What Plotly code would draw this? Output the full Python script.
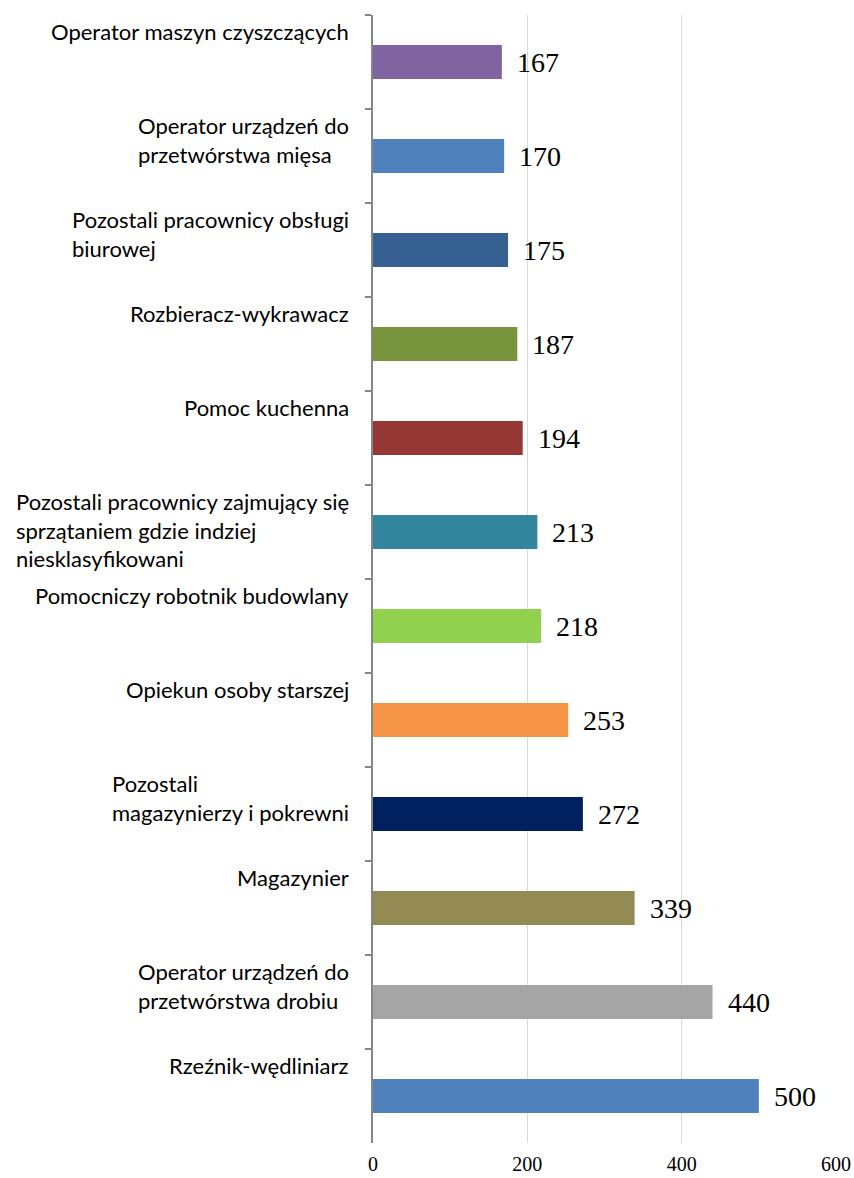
import plotly.graph_objects as go

categories = [
    "Operator maszyn czyszczących",
    "Operator urządzeń do<br>przetwórstwa mięsa",
    "Pozostali pracownicy obsługi<br>biurowej",
    "Rozbieracz-wykrawacz",
    "Pomoc kuchenna",
    "Pozostali pracownicy zajmujący się<br>sprzątaniem gdzie indziej<br>niesklasyfikowani",
    "Pomocniczy robotnik budowlany",
    "Opiekun osoby starszej",
    "Pozostali<br>magazynierzy i pokrewni",
    "Magazynier",
    "Operator urządzeń do<br>przetwórstwa drobiu",
    "Rzeźnik-wędliniarz",
]
values = [167, 170, 175, 187, 194, 213, 218, 253, 272, 339, 440, 500]
colors = ["#8064A2", "#4F81BD", "#376092", "#77933C", "#953735", "#31859C",
          "#92D050", "#F79646", "#002060", "#948A54", "#A5A5A5", "#4F81BD"]
x_ticks = [0, 200, 400, 600]

fig = go.Figure(go.Bar(
    x=values, y=categories, orientation="h",
    marker=dict(color=colors, line=dict(width=0)),
    width=0.36, hoverinfo="skip",
))

for c, v in zip(categories, values):
    fig.add_annotation(x=v, y=c, text=str(v), showarrow=False,
                       xanchor="left", yanchor="middle", xshift=13, yshift=0,
                       font=dict(family="Liberation Serif", size=28, color="#000000"))
    fig.add_annotation(x=0, y=c, text=c, showarrow=False,
                       xanchor="right", yanchor="top", align="left",
                       xshift=-22, yshift=46,
                       font=dict(family="Lato", size=22, color="#000000"))

fig.update_layout(
    width=854, height=1178,
    margin=dict(l=373, r=18, t=15, b=35, autoexpand=False),
    paper_bgcolor="white", plot_bgcolor="white",
    showlegend=False,
)
fig.update_xaxes(range=[0, 600], tickvals=x_ticks, ticktext=[str(t) for t in x_ticks],
                 showgrid=True, gridcolor="#D9D9D9", gridwidth=1.3,
                 zeroline=False, showline=False, ticks="", automargin=False,
                 ticklabelstandoff=7,
                 tickfont=dict(family="Liberation Serif", size=20, color="#000000"))
fig.update_yaxes(categoryorder="array", categoryarray=categories, autorange="reversed",
                 showticklabels=False, showline=True, linecolor="#868686", linewidth=1.5,
                 ticks="outside", tickson="boundaries", ticklen=6, tickcolor="#868686",
                 tickwidth=1.5, showgrid=False, zeroline=False, automargin=False)

fig.write_html("out.html", config={"displayModeBar": False},
               post_script="document.body.style.margin='0px';document.body.style.overflow='hidden';")
